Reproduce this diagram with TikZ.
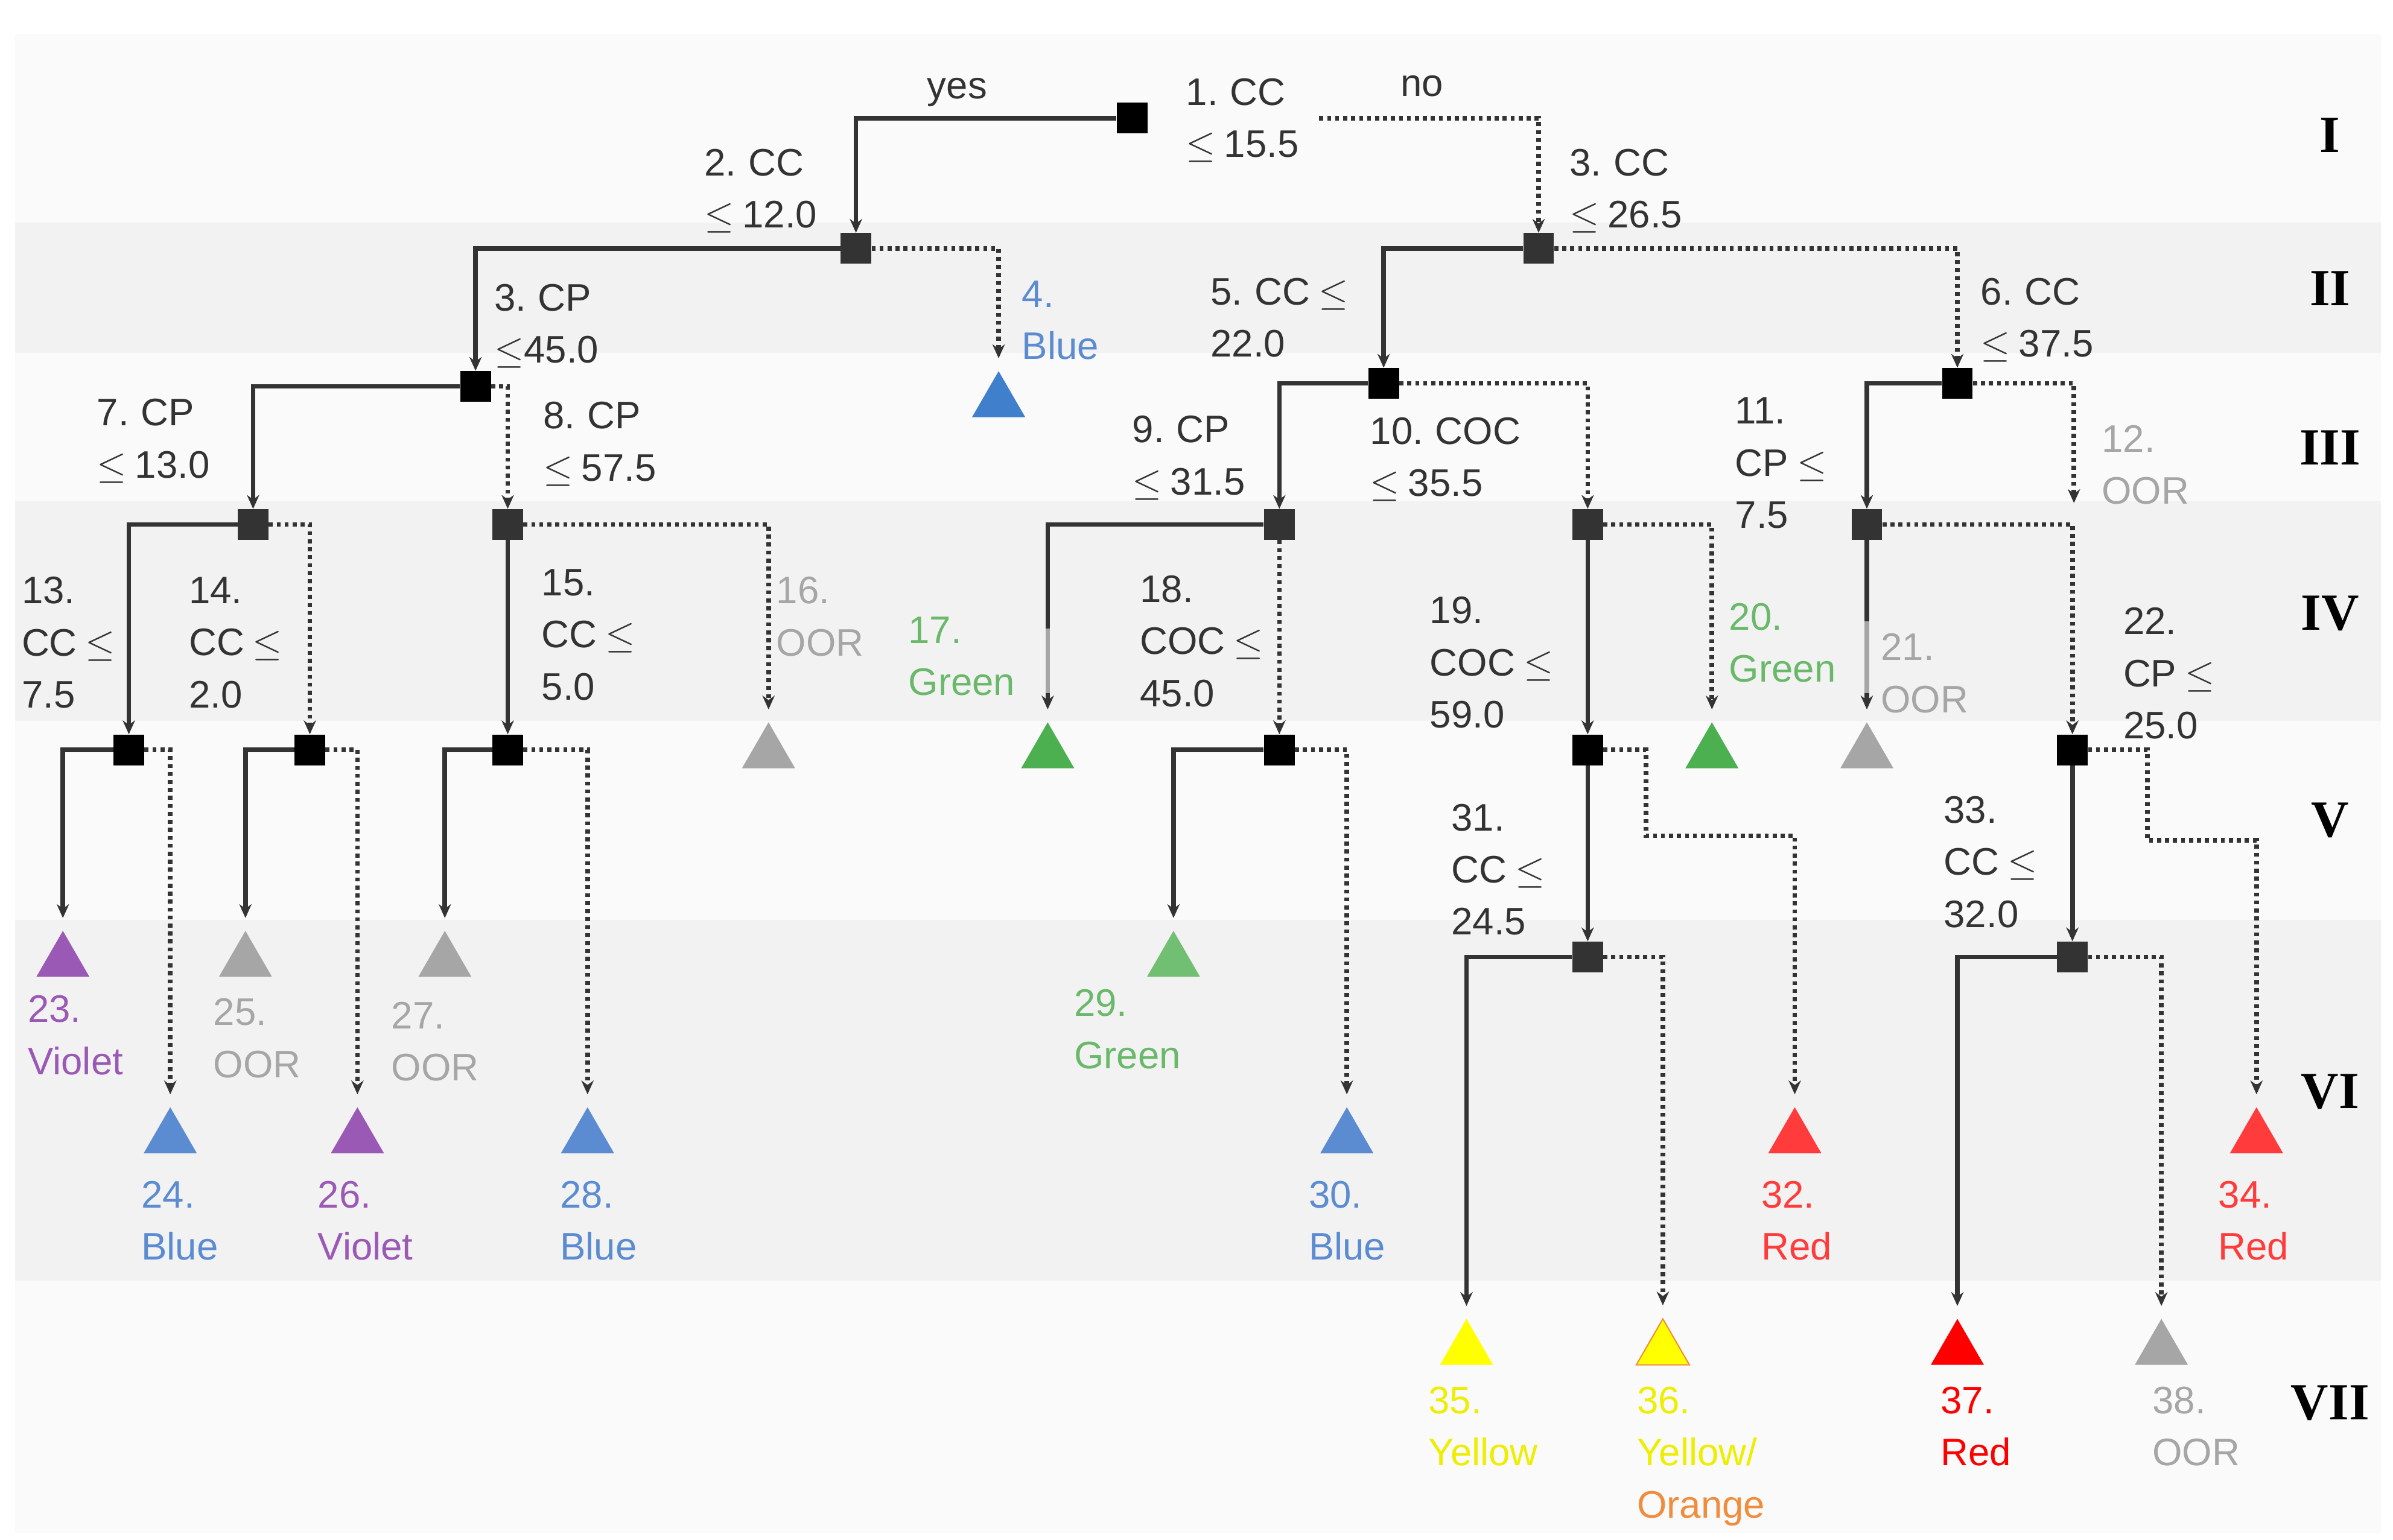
\documentclass[tikz,border=0pt]{standalone}
\usepackage{fontspec}
\setmainfont{Liberation Sans}
\newfontfamily\rmn{Liberation Serif}
\usetikzlibrary{shapes.geometric,arrows.meta}
\definecolor{lc}{HTML}{333333}
\definecolor{bA}{HTML}{FAFAFA}
\definecolor{bB}{HTML}{F2F2F2}
\definecolor{cblue}{HTML}{3F7FCC}
\definecolor{tblue}{HTML}{5B8BD0}
\definecolor{cvio}{HTML}{9B59B6}
\definecolor{cgreen}{HTML}{4CAF50}
\definecolor{tgreen}{HTML}{6AB96A}
\definecolor{cgray}{HTML}{A6A6A6}
\definecolor{cred}{HTML}{FF3B3B}
\definecolor{cred2}{HTML}{FF0000}
\definecolor{cyel}{HTML}{FFFF00}
\definecolor{tyel}{HTML}{EEEE00}
\definecolor{corange}{HTML}{F08C3C}
\newcommand\lf{\fontsize{25}{34}\selectfont\spaceskip=0.22em}
\tikzset{
 sq/.style={fill=lc,minimum size=20pt,inner sep=0},
 tri/.style={regular polygon,regular polygon sides=3,minimum size=40pt,inner sep=0,fill=#1},
 ye/.style={draw=lc,line width=3pt,-{Stealth[length=9pt,width=8pt]}},
 ne/.style={ye,dash pattern=on 2.6pt off 2.6pt},
 tt/.style={shorten >=8pt},
 lab/.style={anchor=north west,inner sep=0,align=left,font=\lf,text=lc},
 rn/.style={font=\rmn\bfseries\fontsize{34}{34}\selectfont}
}
\begin{document}
\begin{tikzpicture}[x=1pt,y=-1pt]
\useasboundingbox (0,0) rectangle (1560,1004);
\fill[white] (0,0) rectangle (1560,1004);
\fill[bA] (10,22) rectangle (1552,145);
\fill[bB] (10,145) rectangle (1552,230);
\fill[bA] (10,230) rectangle (1552,327);
\fill[bB] (10,327) rectangle (1552,470);
\fill[bA] (10,470) rectangle (1552,600);
\fill[bB] (10,600) rectangle (1552,835);
\fill[bA] (10,835) rectangle (1552,1000);
% roman numerals
\node[rn] (rI) at (1519,88) {I};
\node[rn] (rII) at (1519,188) {II};
\node[rn] (rIII) at (1519,292) {III};
\node[rn] (rIV) at (1519,400) {IV};
\node[rn] (rV) at (1519,535) {V};
\node[rn] (rVI) at (1519,712) {VI};
\node[rn] (rVII) at (1519,915) {VII};
% decision nodes
\node[sq,fill=black] (n1) at (738,77) {};
\node[sq] (n2) at (558,162) {};
\node[sq] (n3) at (1003,162) {};
\node[sq,fill=black] (n3p) at (310,252) {};
\node[sq,fill=black] (n5) at (902,250) {};
\node[sq,fill=black] (n6) at (1276,250) {};
\node[sq] (n7) at (165,342) {};
\node[sq] (n8) at (331,342) {};
\node[sq] (n9) at (834,342) {};
\node[sq] (n10) at (1035,342) {};
\node[sq] (n11) at (1217,342) {};
\node[sq,fill=black] (n13) at (84,489) {};
\node[sq,fill=black] (n14) at (202,489) {};
\node[sq,fill=black] (n15) at (331,489) {};
\node[sq,fill=black] (n18) at (834,489) {};
\node[sq,fill=black] (n19) at (1035,489) {};
\node[sq,fill=black] (n22) at (1351,489) {};
\node[sq] (n31) at (1035,624) {};
\node[sq] (n33) at (1351,624) {};
% leaves
\node[tri=cblue] (n4) at (651,262) {};
\node[tri=cgray] (n16) at (501,491) {};
\node[tri=cgreen] (n17) at (683,491) {};
\node[tri=cgreen] (n20) at (1116,491) {};
\node[tri=cgray] (n21) at (1217,491) {};
\node[tri=cvio] (n23) at (41,627) {};
\node[tri=cgray] (n25) at (160,627) {};
\node[tri=cgray] (n27) at (290,627) {};
\node[tri=cgreen!80!white] (n29) at (765,627) {};
\node[tri=tblue] (n24) at (111,742) {};
\node[tri=cvio] (n26) at (233,742) {};
\node[tri=tblue] (n28) at (383,742) {};
\node[tri=tblue] (n30) at (878,742) {};
\node[tri=cred] (n32) at (1170,742) {};
\node[tri=cred] (n34) at (1471,742) {};
\node[tri=cyel] (n35) at (956,880) {};
\node[tri=cyel,draw=corange,line width=0.8pt] (n36) at (1084,880) {};
\node[tri=cred2] (n37) at (1276,880) {};
\node[tri=cgray] (n38) at (1409,880) {};
% helper coordinates
\coordinate (c1) at (860,77);
\coordinate (c19a) at (1073,489);
\coordinate (c19b) at (1073,545);
\coordinate (c22a) at (1400,489);
\coordinate (c22b) at (1400,548);
\coordinate (c12) at (1352,328);
% edges
\draw[ye] (n1.west) -| (n2.north);
\draw[ne] (c1) -| (n3.north);
\draw[ye] (n2.west) -| (n3p.north);
\draw[ne,tt] (n2.east) -| (n4.north);
\draw[ye] (n3.west) -| (n5.north);
\draw[ne] (n3.east) -| (n6.north);
\draw[ye] (n3p.west) -| (n7.north);
\draw[ne] (n3p.east) -| (n8.north);
\draw[ye] (n5.west) -| (n9.north);
\draw[ne] (n5.east) -| (n10.north);
\draw[ye] (n6.west) -| (n11.north);
\draw[ne] (n6.east) -| (c12);
\draw[ye] (n7.west) -| (n13.north);
\draw[ne] (n7.east) -| (n14.north);
\draw[ye] (n8.south) -- (n15.north);
\draw[ne,tt] (n8.east) -| (n16.north);
\draw[ye,tt] (n9.west) -| (n17.north);
\draw[cgray,line width=3pt] (683,410) -- (683,452);
\draw[ne] (n9.south) -- (n18.north);
\draw[ye] (n10.south) -- (n19.north);
\draw[ne,tt] (n10.east) -| (n20.north);
\draw[ye,tt] (n11.south) -- (n21.north);
\draw[cgray,line width=3pt] (1217,405) -- (1217,452);
\draw[ne] (n11.east) -| (n22.north);
\draw[ye,tt] (n13.west) -| (n23.north);
\draw[ne,tt] (n13.east) -| (n24.north);
\draw[ye,tt] (n14.west) -| (n25.north);
\draw[ne,tt] (n14.east) -| (n26.north);
\draw[ye,tt] (n15.west) -| (n27.north);
\draw[ne,tt] (n15.east) -| (n28.north);
\draw[ye,tt] (n18.west) -| (n29.north);
\draw[ne,tt] (n18.east) -| (n30.north);
\draw[ye] (n19.south) -- (n31.north);
\draw[ne,tt] (n19.east) -- (c19a) -- (c19b) -| (n32.north);
\draw[ye] (n22.south) -- (n33.north);
\draw[ne,tt] (n22.east) -- (c22a) -- (c22b) -| (n34.north);
\draw[ye,tt] (n31.west) -| (n35.north);
\draw[ne,tt] (n31.east) -| (n36.north);
\draw[ye,tt] (n33.west) -| (n37.north);
\draw[ne,tt] (n33.east) -| (n38.north);
% edge labels
\node[font=\lf,text=lc] (lyes) at (624,60) {yes};
\node[font=\lf,text=lc] (lno) at (927,56) {no};
% decision labels
\node[lab] (t1) at (773,51) {1. CC\\$\leq$ 15.5};
\node[lab] (t2) at (459,97) {2. CC\\$\leq$ 12.0};
\node[lab] (t3) at (1023,97) {3. CC\\$\leq$ 26.5};
\node[lab] (t3p) at (322,185) {3. CP\\$\leq$45.0};
\node[lab] (t5) at (789,181) {5. CC $\leq$\\22.0};
\node[lab] (t6) at (1291,181) {6. CC\\$\leq$ 37.5};
\node[lab] (t7) at (63,260) {7. CP\\$\leq$ 13.0};
\node[lab] (t8) at (354,262) {8. CP\\$\leq$ 57.5};
\node[lab] (t9) at (738,271) {9. CP\\$\leq$ 31.5};
\node[lab] (t10) at (893,272) {10. COC\\$\leq$ 35.5};
\node[lab] (t11) at (1131,259) {11.\\CP $\leq$\\7.5};
\node[lab] (t13) at (14,376) {13.\\CC $\leq$\\7.5};
\node[lab] (t14) at (123,376) {14.\\CC $\leq$\\2.0};
\node[lab] (t15) at (353,371) {15.\\CC $\leq$\\5.0};
\node[lab] (t18) at (743,375) {18.\\COC $\leq$\\45.0};
\node[lab] (t19) at (932,389) {19.\\COC $\leq$\\59.0};
\node[lab] (t22) at (1384,396) {22.\\CP $\leq$\\25.0};
\node[lab] (t31) at (946,524) {31.\\CC $\leq$\\24.5};
\node[lab] (t33) at (1267,519) {33.\\CC $\leq$\\32.0};
% leaf labels
\node[lab,text=tblue] (t4) at (666,183) {4.\\Blue};
\node[lab,text=cgray] (t12) at (1370,277) {12.\\OOR};
\node[lab,text=cgray] (t16) at (506,376) {16.\\OOR};
\node[lab,text=tgreen] (t17) at (592,402) {17.\\Green};
\node[lab,text=tgreen] (t20) at (1127,393) {20.\\Green};
\node[lab,text=cgray] (t21) at (1226,413) {21.\\OOR};
\node[lab,text=cvio] (t23) at (18,649) {23.\\Violet};
\node[lab,text=cgray] (t25) at (139,651) {25.\\OOR};
\node[lab,text=cgray] (t27) at (255,653) {27.\\OOR};
\node[lab,text=tgreen] (t29) at (700,645) {29.\\Green};
\node[lab,text=tblue] (t24) at (92,770) {24.\\Blue};
\node[lab,text=cvio] (t26) at (207,770) {26.\\Violet};
\node[lab,text=tblue] (t28) at (365,770) {28.\\Blue};
\node[lab,text=tblue] (t30) at (853,770) {30.\\Blue};
\node[lab,text=cred] (t32) at (1148,770) {32.\\Red};
\node[lab,text=cred] (t34) at (1446,770) {34.\\Red};
\node[lab,text=tyel] (t35) at (931,904) {35.\\Yellow};
\node[lab,text=tyel] (t36) at (1067,904) {36.\\Yellow/\\\textcolor{corange}{Orange}};
\node[lab,text=cred2] (t37) at (1265,904) {37.\\Red};
\node[lab,text=cgray] (t38) at (1403,904) {38.\\OOR};
\end{tikzpicture}
\end{document}
